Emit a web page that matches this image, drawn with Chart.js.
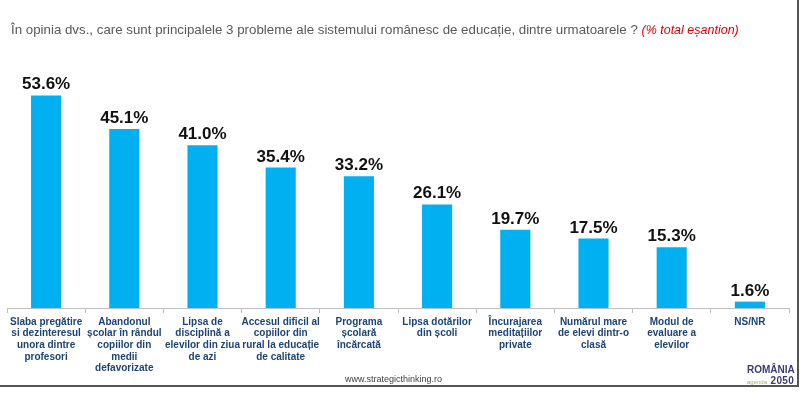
<!DOCTYPE html>
<html>
<head>
<meta charset="utf-8">
<script src="https://cdn.jsdelivr.net/npm/chart.js@4.4.1/dist/chart.umd.min.js"></script>
<style>
  html, body { margin: 0; padding: 0; background: #fff; }
  #wrap { position: relative; width: 800px; height: 397px; overflow: hidden; font-family: "Liberation Sans", Arial, sans-serif; }
  #chart { position: absolute; left: 0; top: 0; }
  .title { position: absolute; left: 11px; top: 22px; font-size: 13.3px; color: #595959; white-space: nowrap; }
  .title em { color: #e00000; font-size: 12.5px; }
  .footer { position: absolute; left: 345px; top: 374px; font-size: 9px; color: #404040; }
  .logo { position: absolute; left: 747px; top: 365px; width: 47px; line-height: 1; color: #3b3a78; font-weight: bold; white-space: nowrap; }
  .logo .ro { font-size: 10px; }
  .logo .row { display: flex; justify-content: space-between; align-items: flex-end; margin-top: 1px; }
  .logo .ag { font-size: 6px; color: #a8b06a; font-weight: normal; border-bottom: 1px solid #a8b06a; }
  .logo .yr { font-size: 10px; letter-spacing: 0.3px; }
  .frame-b { position: absolute; left: 0; top: 385px; width: 799px; height: 2px; background: #555; }
  .frame-r { position: absolute; left: 797px; top: 0; width: 2px; height: 387px; background: #555; }
</style>
</head>
<body>
<div id="wrap">
  <canvas id="chart" width="800" height="397"></canvas>
  <div class="title">În opinia dvs., care sunt principalele 3 probleme ale sistemului românesc de educație, dintre urmatoarele ? <em>(% total eșantion)</em></div>
  <div class="footer">www.strategicthinking.ro</div>
  <div class="logo"><div class="ro">ROMÂNIA</div><div class="row"><span class="ag">agenda</span><span class="yr">2050</span></div></div>
  <div class="frame-b"></div>
  <div class="frame-r"></div>
</div>
<script>
// categories (multi-line, as in the slide)
const categories = [
    ['Slaba pregătire', 'si dezinteresul', 'unora dintre', 'profesori'],
    ['Abandonul', 'școlar în rândul', 'copiilor din', 'medii', 'defavorizate'],
    ['Lipsa de', 'disciplină a', 'elevilor din ziua', 'de azi'],
    ['Accesul dificil al', 'copiilor din', 'rural la educație', 'de calitate'],
    ['Programa', 'școlară', 'încărcată'],
    ['Lipsa dotărilor', 'din școli'],
    ['Încurajarea', 'meditațiilor', 'private'],
    ['Numărul mare', 'de elevi dintr-o', 'clasă'],
    ['Modul de', 'evaluare a', 'elevilor'],
    ['NS/NR'],
];

const values = [53.6, 45.1, 41.0, 35.4, 33.2, 26.1, 19.7, 17.5, 15.3, 1.6];

const barColor = '#00b0f0';
const labelColor = '#1c4474';

// draws "53.6%" above each bar
const valueLabels = {
    id: 'valueLabels',
    afterDatasetsDraw(chart) {
        const { ctx } = chart;
        const meta = chart.getDatasetMeta(0);
        ctx.save();
        ctx.font = 'bold 17px "Liberation Sans", Arial, sans-serif';
        ctx.fillStyle = '#111';
        ctx.textAlign = 'center';
        ctx.textBaseline = 'alphabetic';
        meta.data.forEach((bar, i) => {
            ctx.fillText(values[i].toFixed(1) + '%', bar.x, bar.y - 6);
        });
        ctx.restore();
    },
};

new Chart(document.getElementById('chart').getContext('2d'), {
    type: 'bar',
    data: {
        labels: categories,
        datasets: [
            {
                data: values,
                backgroundColor: barColor,
                barPercentage: 0.385,
                categoryPercentage: 1,
            },
        ],
    },
    options: {
        responsive: false,
        animation: false,
        events: [],
        layout: { padding: { top: 70, left: 7, right: 11, bottom: 0 } },
        scales: {
            x: {
                afterFit: (scale) => { scale.height = 89; },
                grid: {
                    display: true,
                    drawOnChartArea: false,
                    drawTicks: true,
                    tickLength: 5,
                    color: '#bfbfbf',
                    offset: true,
                },
                border: { color: '#bfbfbf', width: 1 },
                ticks: {
                    autoSkip: false,
                    maxRotation: 0,
                    padding: 3,
                    color: labelColor,
                    font: { family: '"Liberation Sans", Arial, sans-serif', size: 10, weight: 'bold', lineHeight: 1.17 },
                },
            },
            y: {
                display: false,
                min: 0,
                max: 60,
            },
        },
        plugins: {
            legend: { display: false },
            tooltip: { enabled: false },
        },
    },
    plugins: [valueLabels],
});
</script>
</body>
</html>
